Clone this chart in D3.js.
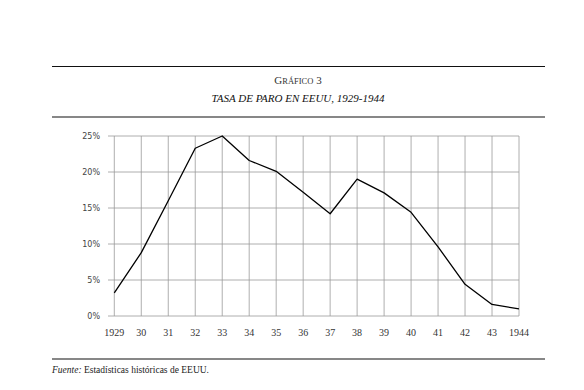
<!DOCTYPE html>
<html>
<head>
<meta charset="utf-8">
<script src="https://cdn.jsdelivr.net/npm/d3@7"></script>
<style>
  body { margin: 0; background: #fff; }
</style>
</head>
<body>
<div id="chart"></div>
<script>
var years = [1929, 1930, 1931, 1932, 1933, 1934, 1935, 1936, 1937, 1938, 1939, 1940, 1941, 1942, 1943, 1944];
var year_labels = ['1929', '30', '31', '32', '33', '34', '35', '36', '37', '38', '39', '40', '41', '42', '43', '1944'];
var paro = [3.2, 8.8, 16.0, 23.3, 25.0, 21.6, 20.1, 17.2, 14.2, 19.0, 17.1, 14.4, 9.6, 4.4, 1.6, 1.0];
var y_ticks = [0, 5, 10, 15, 20, 25];

var svg_width = 584;
var svg_height = 390;

var svg = d3.select('#chart')
  .append('svg')
  .attr('width', svg_width)
  .attr('height', svg_height);

// reglas horizontales
svg.append('line')
  .attr('x1', 52).attr('x2', 545).attr('y1', 66.5).attr('y2', 66.5)
  .attr('stroke', '#111').attr('stroke-width', 1.2);
svg.append('line')
  .attr('x1', 52).attr('x2', 545).attr('y1', 117).attr('y2', 117)
  .attr('stroke', '#111').attr('stroke-width', 1.2);
svg.append('line')
  .attr('x1', 52).attr('x2', 545).attr('y1', 359).attr('y2', 359)
  .attr('stroke', '#111').attr('stroke-width', 1.2);

// titulo
var t = svg.append('text')
  .attr('x', 298).attr('y', 84)
  .attr('text-anchor', 'middle')
  .attr('font-family', 'Liberation Serif, serif')
  .attr('fill', '#333');
t.append('tspan').attr('font-size', '11px').text('G');
t.append('tspan').attr('font-size', '8.5px').text('RÁFICO');
t.append('tspan').attr('font-size', '11px').text(' 3');

svg.append('text')
  .attr('x', 298).attr('y', 102)
  .attr('text-anchor', 'middle')
  .attr('font-family', 'Liberation Serif, serif')
  .attr('font-style', 'italic')
  .attr('font-size', '11px')
  .attr('fill', '#111')
  .text('TASA DE PARO EN EEUU, 1929-1944');

// escalas
var x = d3.scaleLinear().domain([1929, 1944]).range([114.3, 519]);
var y = d3.scaleLinear().domain([0, 25]).range([316, 136]);

var g = svg.append('g');

// rejilla vertical
g.selectAll('.vgrid')
  .data(years)
  .enter()
  .append('line')
  .attr('class', 'vgrid')
  .attr('x1', function(d) { return x(d); })
  .attr('x2', function(d) { return x(d); })
  .attr('y1', y(25))
  .attr('y2', y(0))
  .attr('stroke', '#9a9a9a')
  .attr('stroke-width', 0.8);

// rejilla horizontal
g.selectAll('.hgrid')
  .data(y_ticks)
  .enter()
  .append('line')
  .attr('class', 'hgrid')
  .attr('x1', 108)
  .attr('x2', x(1944))
  .attr('y1', function(d) { return y(d); })
  .attr('y2', function(d) { return y(d); })
  .attr('stroke', '#9a9a9a')
  .attr('stroke-width', 0.8);

// etiquetas eje y
g.selectAll('.ylab')
  .data(y_ticks)
  .enter()
  .append('text')
  .attr('x', 100)
  .attr('y', function(d) { return y(d) + 3; })
  .attr('text-anchor', 'end')
  .attr('font-family', 'DejaVu Sans, sans-serif')
  .attr('font-size', '8px')
  .attr('fill', '#444')
  .text(function(d) { return d + '%'; });

// etiquetas eje x
g.selectAll('.xlab')
  .data(years)
  .enter()
  .append('text')
  .attr('x', function(d) { return x(d); })
  .attr('y', 336)
  .attr('text-anchor', 'middle')
  .attr('font-family', 'Liberation Serif, serif')
  .attr('font-size', '10px')
  .attr('fill', '#333')
  .text(function(d, i) { return year_labels[i]; });

// linea
var line = d3.line()
  .x(function(d, i) { return x(years[i]); })
  .y(function(d) { return y(d); });

g.append('path')
  .datum(paro)
  .attr('d', line)
  .attr('fill', 'none')
  .attr('stroke', '#000')
  .attr('stroke-width', 1.3)
  .attr('stroke-linejoin', 'round');

// fuente
var f = svg.append('text')
  .attr('x', 52).attr('y', 373)
  .attr('font-family', 'Liberation Serif, serif')
  .attr('font-size', '9.5px')
  .attr('fill', '#222');
f.append('tspan').attr('font-style', 'italic').text('Fuente:');
f.append('tspan').text(' Estadísticas históricas de EEUU.');
</script>
</body>
</html>
